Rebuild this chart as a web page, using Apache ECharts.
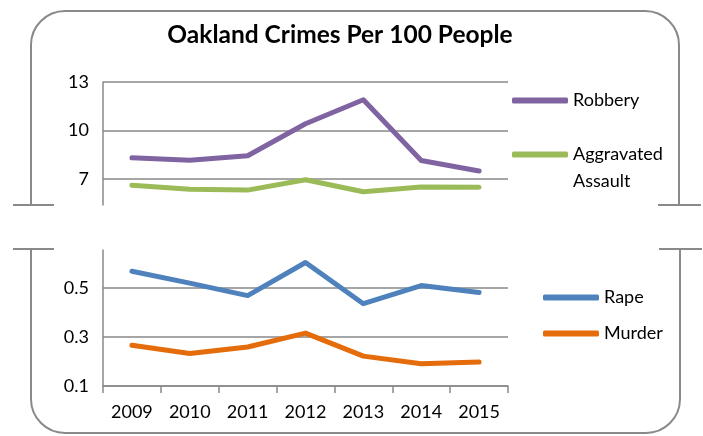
<!DOCTYPE html>
<html>
<head>
<meta charset="utf-8">
<script src="https://cdn.jsdelivr.net/npm/echarts@6/dist/echarts.min.js"></script>
<style>html,body{margin:0;padding:0;background:#fff;}#c{width:703px;height:436px;}</style>
</head>
<body>
<div id="c"></div>
<script>
var years = ['2009', '2010', '2011', '2012', '2013', '2014', '2015'];
var robbery = [8.32, 8.17, 8.44, 10.42, 11.9, 8.15, 7.5];
var aggravatedAssault = [6.62, 6.37, 6.32, 6.96, 6.22, 6.51, 6.49];
var rape = [0.568, 0.52, 0.469, 0.604, 0.436, 0.51, 0.482];
var murder = [0.266, 0.233, 0.259, 0.316, 0.222, 0.191, 0.198];
var topTicks = [7, 10, 13];
var bottomTicks = [0.1, 0.3, 0.5];

var FONT = 'Lato';
var GRAY = '#898989';
var chart = echarts.init(document.getElementById('c'));

function legendCfg(name, left, top, fmt) {
  return {
    data: [name], left: left, top: top, padding: 0,
    icon: 'roundRect', itemWidth: 56, itemHeight: 6, itemGap: 5,
    selectedMode: false,
    formatter: fmt || '{name}',
    textStyle: { fontFamily: FONT, fontSize: 18, color: '#000', lineHeight: 27 }
  };
}
function seg(x1, y1, x2, y2) {
  return { type: 'line', silent: true, shape: { x1: x1, y1: y1, x2: x2, y2: y2 }, style: { stroke: GRAY, lineWidth: 2 } };
}
function corner(cx, cy, a0, a1) {
  return { type: 'arc', silent: true, shape: { cx: cx, cy: cy, r: 34, startAngle: a0, endAngle: a1, clockwise: true },
    style: { fill: null, stroke: GRAY, lineWidth: 2 } };
}
var PI = Math.PI;

var option = {
  animation: false,
  title: {
    text: 'Oakland Crimes Per 100 People',
    left: 335, top: 18, textAlign: 'center',
    textStyle: { fontFamily: FONT, fontWeight: 'bold', fontSize: 24.5, color: '#000' }
  },
  legend: [
    legendCfg('Robbery', 512, 87),
    legendCfg('Aggravated Assault', 512, 114, function () { return '\nAggravated\nAssault'; }),
    legendCfg('Rape', 543, 284),
    legendCfg('Murder', 543, 320)
  ],
  grid: [
    { left: 103, top: 82, width: 405, height: 123 },
    { left: 103, top: 250, width: 405, height: 136 }
  ],
  xAxis: [
    { type: 'category', gridIndex: 0, data: years, boundaryGap: true, show: false },
    {
      type: 'category', gridIndex: 1, data: years, boundaryGap: true,
      axisLine: { show: true, lineStyle: { color: GRAY, width: 1.5 } },
      axisTick: { show: true, length: 7, lineStyle: { color: GRAY, width: 1.5 } },
      axisLabel: { fontFamily: FONT, fontSize: 18, color: '#000', margin: 17 }
    }
  ],
  yAxis: [
    {
      type: 'value', gridIndex: 0, min: 5.4, max: 13,
      axisLine: { show: true, lineStyle: { color: GRAY, width: 1.5 } },
      axisTick: { show: false, customValues: topTicks },
      axisLabel: { fontFamily: FONT, fontSize: 18, color: '#000', margin: 14, customValues: topTicks },
      splitLine: { show: true, lineStyle: { color: GRAY, width: 1.5 } }
    },
    {
      type: 'value', gridIndex: 1, min: 0.1, max: 0.655,
      axisLine: { show: true, lineStyle: { color: GRAY, width: 1.5 } },
      axisTick: { show: false, customValues: bottomTicks },
      axisLabel: { fontFamily: FONT, fontSize: 18, color: '#000', margin: 14, customValues: bottomTicks },
      splitLine: { show: true, lineStyle: { color: GRAY, width: 1.5 } }
    }
  ],
  series: [
    { name: 'Robbery', type: 'line', xAxisIndex: 0, yAxisIndex: 0, data: robbery, showSymbol: false, symbol: 'none',
      lineStyle: { width: 5, color: '#8064A2', cap: 'round', join: 'round' }, itemStyle: { color: '#8064A2' } },
    { name: 'Aggravated Assault', type: 'line', xAxisIndex: 0, yAxisIndex: 0, data: aggravatedAssault, showSymbol: false, symbol: 'none',
      lineStyle: { width: 5, color: '#9BBB59', cap: 'round', join: 'round' }, itemStyle: { color: '#9BBB59' } },
    { name: 'Rape', type: 'line', xAxisIndex: 1, yAxisIndex: 1, data: rape, showSymbol: false, symbol: 'none',
      lineStyle: { width: 5, color: '#4F81BD', cap: 'round', join: 'round' }, itemStyle: { color: '#4F81BD' } },
    { name: 'Murder', type: 'line', xAxisIndex: 1, yAxisIndex: 1, data: murder, showSymbol: false, symbol: 'none',
      lineStyle: { width: 5, color: '#E46C0A', cap: 'round', join: 'round' }, itemStyle: { color: '#E46C0A' } }
  ],
  graphic: [
    seg(31, 205, 31, 45), corner(65, 45, PI, 1.5 * PI), seg(65, 11, 645, 11), corner(645, 45, 1.5 * PI, 2 * PI), seg(679, 45, 679, 205),
    seg(31, 249, 31, 399), corner(65, 399, 0.5 * PI, PI), seg(65, 433, 646, 433), corner(646, 399, 0, 0.5 * PI), seg(680, 399, 680, 249),
    seg(13, 205, 54, 205), seg(13, 249, 54, 249), seg(658, 205, 701, 205), seg(659, 249, 702, 249)
  ]
};
chart.setOption(option);
</script>
</body>
</html>
